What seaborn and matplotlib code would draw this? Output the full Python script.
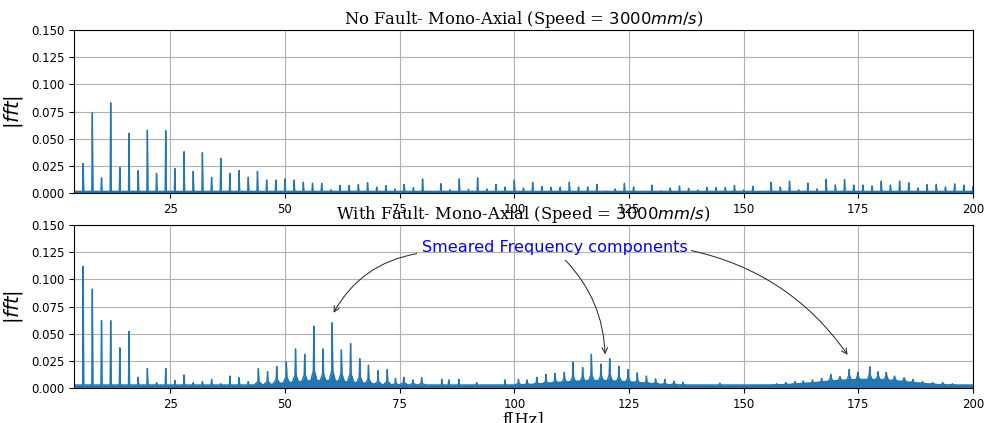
import matplotlib
matplotlib.use('Agg')
import matplotlib.pyplot as plt
import numpy as np
import pandas as pd
import seaborn as sns

# No fault: harmonics every 2 Hz
nofault_freq = np.arange(6, 201, 2)
nofault_amp = [
    0.027, 0.074, 0.014, 0.083, 0.0235, 0.055, 0.0207, 0.0577, 0.018, 0.0574,
    0.0225, 0.038, 0.020, 0.037, 0.0145, 0.032, 0.018, 0.0207, 0.0145, 0.020,
    0.012, 0.012, 0.013, 0.012, 0.010, 0.009, 0.009, 0.003, 0.007, 0.007,
    0.008, 0.0095, 0.0055, 0.0068, 0.0037, 0.008, 0.005, 0.013, 0.0015, 0.0086,
    0.003, 0.013, 0.0034, 0.014, 0.0037, 0.008, 0.0056, 0.012, 0.0046, 0.010,
    0.006, 0.0053, 0.0053, 0.010, 0.0056, 0.0056, 0.008, 0.002, 0.0037, 0.0087,
    0.0056, 0.001, 0.0074, 0.002, 0.0046, 0.0065, 0.0043, 0.0028, 0.0053, 0.005,
    0.005, 0.007, 0.0028, 0.0062, 0.001, 0.010, 0.0056, 0.011, 0.003, 0.009,
    0.0037, 0.0127, 0.0074, 0.0124, 0.0074, 0.0074, 0.0065, 0.011, 0.0074, 0.011,
    0.0093, 0.0046, 0.0077, 0.008, 0.0056, 0.0084, 0.0074, 0.006,
]
nofault_floor = 0.0015

# With fault: peak height and height of the smeared skirt under it
fault_freq = [
    6, 8, 10, 12, 14, 16, 18, 20, 22, 24,
    26, 28, 30, 32, 34, 36, 38, 40, 42, 44.2,
    46.2, 48.2, 50.3, 52.3, 54.3, 56.3, 58.3, 60.3, 62.3, 64.3,
    66.3, 68.2, 70.3, 72.3, 74.1, 75.9, 77.9, 79.8, 84.2, 85.7,
    87.9, 91.8, 98, 100.9, 102.8, 104.9, 106.9, 108.9, 110.9, 112.8,
    114.9, 116.8, 118.9, 120.8, 122.8, 124.8, 126.8, 128.8, 130.8, 132.8,
    134.8, 136.8, 144.8, 157.2, 159.2, 161.2, 163, 165, 167, 169,
    171, 173, 174.9, 177.5, 179.3, 181.1, 182.9, 185, 186.9, 189,
    191.2, 193.4, 195.5,
]
fault_amp = [
    0.112, 0.091, 0.062, 0.062, 0.037, 0.052, 0.010, 0.018, 0.005, 0.018,
    0.007, 0.012, 0.005, 0.006, 0.008, 0.004, 0.011, 0.0095, 0.006, 0.018,
    0.015, 0.020, 0.024, 0.036, 0.031, 0.057, 0.036, 0.060, 0.035, 0.041,
    0.027, 0.021, 0.016, 0.017, 0.009, 0.010, 0.0075, 0.0095, 0.008, 0.0075,
    0.008, 0.005, 0.0075, 0.008, 0.0075, 0.010, 0.0125, 0.0135, 0.0145, 0.024,
    0.019, 0.031, 0.022, 0.027, 0.020, 0.017, 0.014, 0.011, 0.0085, 0.008,
    0.0065, 0.0055, 0.0045, 0.004, 0.005, 0.006, 0.0065, 0.0075, 0.009, 0.0125,
    0.0105, 0.017, 0.0145, 0.0195, 0.015, 0.0145, 0.011, 0.0095, 0.008, 0.006,
    0.005, 0.005, 0.004,
]
fault_skirt = [
    0, 0, 0, 0, 0, 0, 0, 0, 0, 0,
    0, 0, 0, 0, 0, 0, 0, 0, 0, 0.006,
    0.006, 0.008, 0.010, 0.012, 0.012, 0.016, 0.013, 0.016, 0.013, 0.013,
    0.010, 0.008, 0.006, 0.006, 0.004, 0.005, 0.004, 0.004, 0, 0,
    0, 0, 0, 0.004, 0.004, 0.005, 0.006, 0.007, 0.008, 0.010,
    0.010, 0.012, 0.011, 0.012, 0.010, 0.009, 0.007, 0.006, 0.005, 0.004,
    0.004, 0.003, 0, 0.003, 0.0035, 0.004, 0.0045, 0.005, 0.006, 0.009,
    0.009, 0.011, 0.011, 0.012, 0.011, 0.011, 0.009, 0.008, 0.006, 0.0045,
    0.004, 0.0035, 0.003,
]
fault_floor = 0.0028

# broad background level of the smeared bands (fault case)
envelope_freq = [4, 42, 46, 50, 56, 60, 66, 72, 78, 98, 104, 110, 116, 120, 126,
                 132, 138, 150, 156, 160, 165, 170, 175, 180, 185, 190, 195, 200]
envelope_amp = [0.0028, 0.0028, 0.004, 0.006, 0.008, 0.008, 0.006, 0.004, 0.003,
                0.003, 0.0045, 0.0065, 0.008, 0.008, 0.0065, 0.0045, 0.003, 0.003,
                0.0035, 0.0045, 0.006, 0.008, 0.009, 0.009, 0.007, 0.005,
                0.0035, 0.003]

arrow_targets_x = [60.3, 119.8, 173.0]
arrow_targets_y = [0.067, 0.0285, 0.0285]


def spectrum_outline(freq, amp, skirt, floor, half_width):
    """Turn peak lists into a spectrum outline (floor - skirt - peak - skirt - floor)."""
    xs, ys = [4.0], [floor]
    for f, a, s in zip(freq, amp, skirt):
        s = max(s, floor)
        xs += [f - half_width, f - 0.12, f, f + 0.12, f + half_width]
        ys += [floor, s, a, s, floor]
    xs.append(200.0)
    ys.append(floor)
    return pd.DataFrame({'f': xs, 'amp': ys})


top_df = spectrum_outline(nofault_freq, nofault_amp, [0] * len(nofault_amp), nofault_floor, 0.2)
bot_df = spectrum_outline(fault_freq, fault_amp, fault_skirt, fault_floor, 0.9)
env_df = pd.DataFrame({'f': envelope_freq, 'amp': envelope_amp})

blue = '#1f77b4'
title_font = {'family': 'DejaVu Serif', 'size': 11.8}

fig = plt.figure(figsize=(9.84, 4.23), dpi=100)
ax1 = fig.add_axes([0.0752, 0.5437, 0.9136, 0.3854])
ax2 = fig.add_axes([0.0752, 0.0827, 0.9136, 0.3854])

ax2.fill_between(env_df['f'], 0, env_df['amp'], color=blue, lw=0, zorder=2)

for ax, df in [(ax1, top_df), (ax2, bot_df)]:
    sns.lineplot(x='f', y='amp', data=df, sort=False, estimator=None, color=blue, lw=1.0, ax=ax)
    ax.fill_between(df['f'], 0, df['amp'], color=blue, lw=0)
    ax.set_xlim(4, 200)
    ax.set_ylim(0, 0.15)
    ax.set_xticks([25, 50, 75, 100, 125, 150, 175, 200])
    ax.set_yticks([0, 0.025, 0.05, 0.075, 0.1, 0.125, 0.15])
    ax.set_yticklabels(['0.000', '0.025', '0.050', '0.075', '0.100', '0.125', '0.150'])
    ax.tick_params(labelsize=8.5)
    ax.grid(True, color='#b0b0b0', lw=0.8)
    ax.set_axisbelow(True)
    ax.set_ylabel('$|fft|$', fontsize=14)
    ax.set_xlabel('')

ax1.set_title('No Fault- Mono-Axial (Speed = $3000 mm/s$)', fontdict=title_font, pad=3)
ax2.set_title('With Fault- Mono-Axial (Speed = $3000 mm/s$)', fontdict=title_font, pad=3)
ax2.set_xlabel('f[Hz]', fontdict=title_font, labelpad=0)

# annotation with three curved arrows
text_pos = (108.8, 0.1295)
ax2.text(text_pos[0], text_pos[1], 'Smeared Frequency components', color='blue',
         fontsize=11.6, ha='center', va='center')
starts_x = [79.3, 110.7, 138.0]
starts_y = [0.124, 0.1195, 0.127]
rads = [0.25, -0.2, -0.2]
for sx, sy, tx, ty, r in zip(starts_x, starts_y, arrow_targets_x, arrow_targets_y, rads):
    ax2.annotate('', xy=(tx, ty), xytext=(sx, sy),
                 arrowprops=dict(arrowstyle='->', color='#222222', lw=0.7,
                                 connectionstyle='arc3,rad={}'.format(r)))

fig.savefig('out.png', dpi=100)
